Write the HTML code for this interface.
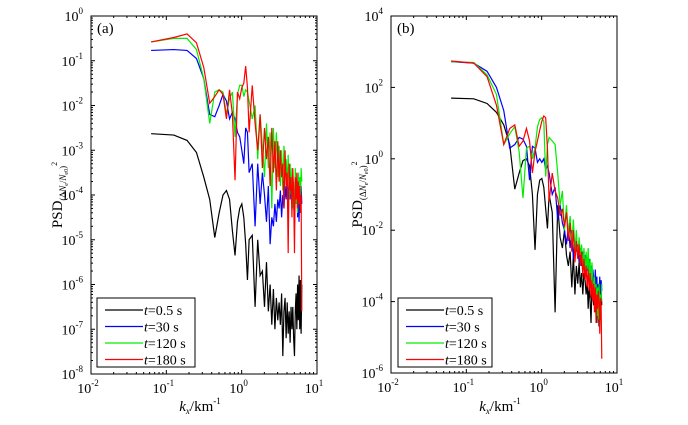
<!DOCTYPE html>
<html><head><meta charset="utf-8"><style>
body{margin:0;background:#fff;}
svg text{font-family:"Liberation Serif",serif;fill:#000;}
</style></head><body>
<svg id="chart" width="688" height="420" viewBox="0 0 688 420" xmlns="http://www.w3.org/2000/svg"></svg>
<script>
// wave-number indices (k = n * dk)
const waveIndex = [1,2,3,4,5,6,7,8,9,10,11,12,13,14,15,16,17,18,19,20,22,24,26,28,30,32,34,36,38,40,42,44,46,48,50,52,54,56,58,60,62,64,66,68,70,72,74,76,78,80,82,84,86,88,90,92,94,96,98,100];
const dk = 0.0628;
const seriesLabels = ["t=0.5 s","t=30 s","t=120 s","t=180 s"];
const seriesColors = ["#000000","#0000ff","#00ee00","#ff0000"];
// panel (a): log10 PSD
const aBlack = [-2.63,-2.66,-2.78,-3.05,-3.6,-4.1,-4.95,-4.4,-4.0,-3.9,-4.1,-4.8,-5.35,-4.6,-4.3,-4.2,-4.5,-5.1,-5.9,-5.0,-4.9,-6.5,-5.0,-5.8,-5.7,-6.5,-5.5,-6.6,-6.0,-6.9,-6.1,-7.0,-6.3,-6.8,-6.4,-6.9,-6.2,-7.6,-6.6,-6.3,-7.2,-6.4,-7.1,-6.6,-7.3,-6.5,-7.0,-6.5,-7.2,-7.6,-6.6,-6.2,-7.0,-6.0,-6.8,-5.8,-7.0,-5.9,-7.1,-6.0];
const aBlue = [-0.77,-0.75,-0.77,-0.95,-1.4,-2.2,-2.25,-2.0,-1.75,-1.9,-2.3,-2.15,-2.3,-2.6,-2.7,-3.0,-3.3,-2.5,-2.6,-3.5,-3.3,-4.7,-3.3,-4.2,-3.5,-4.0,-4.6,-3.8,-5.1,-4.5,-4.7,-4.2,-4.6,-4.1,-4.3,-3.9,-4.5,-4.0,-4.3,-3.8,-4.1,-3.6,-4.2,-3.7,-4.1,-3.6,-4.0,-3.5,-4.1,-4.6,-3.8,-4.2,-3.7,-4.5,-3.8,-4.6,-3.9,-4.4,-3.8,-4.2];
const aGreen = [-0.58,-0.5,-0.5,-0.75,-1.4,-2.4,-1.7,-1.65,-1.7,-2.2,-1.85,-1.7,-2.7,-1.75,-1.55,-1.55,-1.8,-1.65,-1.7,-1.9,-2.3,-2.0,-3.2,-2.2,-2.9,-3.6,-2.4,-3.4,-2.6,-4.3,-2.5,-3.4,-2.6,-3.6,-2.9,-3.8,-3.0,-3.9,-2.9,-3.5,-3.2,-3.8,-3.1,-4.1,-3.3,-4.0,-3.4,-4.3,-3.7,-4.7,-3.4,-4.2,-3.6,-4.4,-3.5,-4.2,-3.6,-4.3,-3.4,-3.7];
const aRed = [-0.58,-0.48,-0.4,-0.6,-1.15,-1.95,-1.8,-1.65,-1.75,-2.3,-1.65,-2.2,-3.67,-1.7,-1.85,-1.6,-1.5,-1.12,-1.6,-2.6,-1.55,-2.4,-3.0,-2.2,-3.4,-2.5,-3.2,-2.7,-3.8,-2.5,-3.5,-2.8,-3.9,-2.8,-3.7,-3.0,-3.6,-3.3,-4.3,-3.0,-3.8,-3.5,-5.3,-3.3,-3.9,-3.6,-4.5,-3.4,-4.0,-5.3,-3.6,-4.1,-3.5,-4.3,-3.7,-4.2,-3.8,-4.4,-4.0,-6.6];
// panel (b): log10 PSD
const bBlack = [1.7,1.68,1.55,1.3,0.95,0.4,-0.85,-0.4,-0.05,0.0,-0.2,-1.0,-2.55,-1.0,-0.6,-0.55,-0.8,-1.4,-1.95,-1.0,-1.5,-4.3,-1.3,-2.2,-2.5,-2.0,-2.7,-3.0,-2.6,-3.6,-2.7,-3.8,-3.0,-3.5,-2.9,-3.6,-3.2,-3.8,-3.2,-3.4,-3.8,-3.4,-4.2,-3.5,-4.0,-4.6,-3.6,-3.8,-4.1,-3.7,-4.3,-3.9,-4.6,-3.8,-4.2,-4.7,-3.9,-4.5,-3.7,-4.1];
const bBlue = [2.72,2.68,2.45,2.0,1.35,0.3,0.4,0.6,0.55,0.35,-0.6,0.35,0.3,-0.1,0.0,-0.1,0.0,-0.3,-0.2,-0.4,-1.0,-0.8,-1.7,-1.3,-1.8,-2.0,-2.4,-1.9,-2.5,-2.0,-2.8,-2.3,-2.6,-2.4,-2.9,-2.5,-3.0,-2.6,-3.1,-2.7,-3.3,-2.9,-3.2,-2.8,-3.4,-3.0,-3.6,-3.1,-3.3,-3.8,-3.1,-3.6,-3.3,-4.2,-3.5,-3.9,-3.3,-4.1,-3.4,-3.7];
const bGreen = [2.72,2.7,2.35,1.8,0.4,0.7,0.9,0.2,-1.1,0.3,0.35,0.0,0.3,0.9,1.1,1.15,1.05,-0.5,0.4,0.6,0.5,0.4,-0.4,-1.3,-0.9,-2.0,-1.3,-2.1,-1.6,-2.4,-1.7,-2.6,-2.0,-2.8,-2.2,-2.7,-2.4,-3.0,-2.5,-3.2,-2.6,-3.1,-2.5,-3.4,-2.8,-3.6,-2.9,-3.3,-3.9,-3.3,-4.2,-3.5,-4.4,-3.6,-4.5,-3.5,-4.3,-3.8,-4.0,-3.5];
const bRed = [2.74,2.68,2.3,1.5,0.4,0.85,0.95,0.35,0.5,0.85,0.5,-0.4,0.2,0.5,0.8,1.05,1.2,1.15,0.3,-1.2,-0.4,-0.9,-1.1,-1.6,-1.4,-1.9,-1.5,-2.3,-1.8,-2.6,-2.0,-2.9,-2.3,-2.8,-2.4,-3.0,-2.6,-3.3,-2.8,-3.4,-3.0,-3.6,-3.1,-3.7,-3.2,-3.9,-3.4,-4.0,-3.5,-4.3,-3.6,-4.6,-3.8,-4.2,-3.7,-4.0,-4.9,-3.9,-4.1,-5.6];
const xTickExp = [-2,-1,0,1];
const aYTickExp = [0,-1,-2,-3,-4,-5,-6,-7,-8];
const bYTickExp = [4,2,0,-2,-4,-6];

const NS="http://www.w3.org/2000/svg";
const svg=document.getElementById('chart');
function mk(tag,attrs,parent){const e=document.createElementNS(NS,tag);for(const k in attrs)e.setAttribute(k,attrs[k]);(parent||svg).appendChild(e);return e;}

function panel(cfg){
  const g=mk('g',{});
  
  
  const L=cfg.x0,R=cfg.x1,T=cfg.y0,B=cfg.y1;
  const xs=v=>L+(Math.log10(v)-(-2))/3*(R-L);
  const ys=e=>T+(cfg.yMax-e)/(cfg.yMax-cfg.yMin)*(B-T);
  const cid='clip'+cfg.id;
  const cp=mk('clipPath',{id:cid},g);mk('rect',{x:L,y:T,width:R-L,height:B-T},cp);
  cfg.series.forEach((s,i)=>{
    const pts=waveIndex.map((n,j)=>xs(n*dk).toFixed(2)+','+ys(s[j]).toFixed(2)).join(' ');
    const pl=mk('polyline',{points:pts,fill:'none',stroke:seriesColors[i],'stroke-width':1.2,'clip-path':'url(#'+cid+')'},g);
    
    
  });
  const fr=mk('rect',{x:L,y:T,width:R-L,height:B-T,fill:'none',stroke:'#000','stroke-width':1},g);
  
  
  xTickExp.forEach((e,i)=>{
    const x=xs(Math.pow(10,e));
    mk('line',{x1:x,y1:B,x2:x,y2:B-4,stroke:'#000'},g);
    mk('line',{x1:x,y1:T,x2:x,y2:T+4,stroke:'#000'},g);
    if(i<xTickExp.length-1){for(let m=2;m<10;m++){const xm=xs(m*Math.pow(10,e));
      mk('line',{x1:xm,y1:B,x2:xm,y2:B-2,stroke:'#000'},g);mk('line',{x1:xm,y1:T,x2:xm,y2:T+2,stroke:'#000'},g);}}
    const t=mk('text',{x:x-3,y:B+19,'font-size':14,'text-anchor':'middle'},g);
    
    
    t.innerHTML='10<tspan dy="-7" font-size="9">'+e+'</tspan>';
  });
  cfg.yTicks.forEach((e,i)=>{
    const y=ys(e);
    mk('line',{x1:L,y1:y,x2:L+4,y2:y,stroke:'#000'},g);
    mk('line',{x1:R,y1:y,x2:R-4,y2:y,stroke:'#000'},g);
    if(cfg.minorY && i<cfg.yTicks.length-1){for(let m=2;m<10;m++){const ym=ys(e-1+Math.log10(m));
      mk('line',{x1:L,y1:ym,x2:L+2,y2:ym,stroke:'#000'},g);mk('line',{x1:R,y1:ym,x2:R-2,y2:ym,stroke:'#000'},g);}}
    const t=mk('text',{x:L-8,y:y+5,'font-size':14,'text-anchor':'end'},g);
    
    
    t.innerHTML='10<tspan dy="-7" font-size="9">'+e+'</tspan>';
  });
  const pl=mk('text',{x:L+6,y:T+17,'font-size':15},g);
  
  
  pl.textContent='('+cfg.id+')';
  const xt=mk('text',{x:(L+R)/2-4,y:411,'font-size':15,'text-anchor':'middle'},g);
  
  
  xt.innerHTML='<tspan font-style="italic">k</tspan><tspan font-size="9" dy="3" font-style="italic">x</tspan><tspan dy="-3">/km</tspan><tspan dy="-7" font-size="9">-1</tspan>';
  const yt=mk('text',{x:0,y:0,'font-size':15,'text-anchor':'middle',transform:'translate('+cfg.ytx+','+((T+B)/2)+') rotate(-90)'},g);
  
  
  yt.innerHTML='<tspan>PSD</tspan><tspan font-size="9" dy="4">(Δ</tspan><tspan font-size="9" font-style="italic">N</tspan><tspan font-size="6" dy="2">e</tspan><tspan font-size="9" dy="-2">/</tspan><tspan font-size="9" font-style="italic">N</tspan><tspan font-size="6" dy="2">e0</tspan><tspan font-size="9" dy="-2">)</tspan><tspan font-size="8" dy="-9">2</tspan>';
  const lg=mk('g',{},g);
  
  
  mk('rect',{x:cfg.lx,y:298,width:cfg.lw,height:69,fill:'#fff',stroke:'#000','stroke-width':1},lg);
  seriesLabels.forEach((lab,i)=>{
    const y=310+i*16.5;
    const ln=mk('line',{x1:cfg.lx+8,y1:y,x2:cfg.lx+46,y2:y,stroke:seriesColors[i],'stroke-width':1.3},lg);
    
    
    const t=mk('text',{x:cfg.lx+47,y:y+5,'font-size':14},lg);
    
    
    t.innerHTML='<tspan font-style="italic">t</tspan>'+lab.slice(1);
  });
}
panel({id:'a',name:'panel-a',x0:91,x1:317,y0:16,y1:374,yMax:0,yMin:-8,yTicks:aYTickExp,minorY:true,ytx:62,lx:97,lw:98,
  series:[aBlack,aBlue,aGreen,aRed]});
panel({id:'b',name:'panel-b',x0:391,x1:617,y0:16,y1:373,yMax:4,yMin:-6,yTicks:bYTickExp,minorY:false,ytx:362,lx:398,lw:94,
  series:[bBlack,bBlue,bGreen,bRed]});
</script>
</body></html>
